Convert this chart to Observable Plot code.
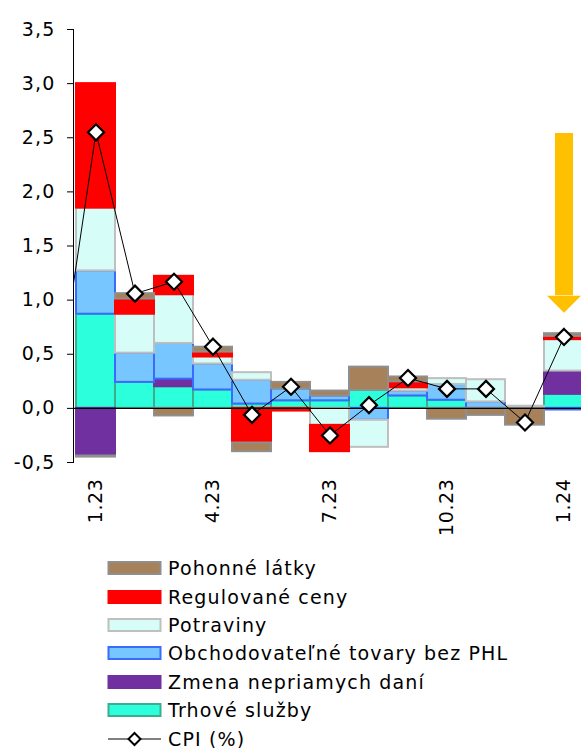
<!DOCTYPE html>
<html><head><meta charset="utf-8">
<script src="https://cdn.jsdelivr.net/npm/d3@7"></script>
<script src="https://cdn.jsdelivr.net/npm/@observablehq/plot@0.6"></script>
<style>
html,body{margin:0;padding:0;background:#fff;overflow:hidden;width:581px;height:748px;}
#chart{position:absolute;left:0;top:0;}
#chart svg text{letter-spacing:1.2px;}
#chart [aria-label^="x-axis"] text{letter-spacing:0.6px;}
#legend{position:absolute;left:107px;top:554px;font-family:"DejaVu Sans";font-size:19px;letter-spacing:1.15px;color:#000;}
.row{height:28.4px;display:flex;align-items:center;white-space:nowrap;}
.row svg{margin-right:6px;flex:none;}
</style></head><body>
<div id="chart"></div><div id="legend"></div>
<script>
// ---- data ----
const months = ["1.23","2.23","3.23","4.23","5.23","6.23","7.23","8.23","9.23","10.23","11.23","12.23","1.24"];
const prevMonth = "12.22";
const trhove         = [0.87, 0.24, 0.20, 0.17, 0.04, 0.07, 0.07, 0.166, 0.115, 0.075, 0, 0, 0.13];
const zmena          = [-0.44, 0, 0.07, 0, 0, 0, 0, 0, 0, 0, 0, 0, 0.215];
const obchodovatelne = [0.40, 0.27, 0.33, 0.24, 0.22, 0.11, 0.045, -0.11, 0.045, 0.145, 0.06, 0, -0.015];
const potraviny      = [0.58, 0.36, 0.45, 0.065, 0.07, 0, -0.157, -0.25, 0.03, 0.055, 0.205, 0.02, 0.29];
const regulovane     = [1.15, 0.14, 0.17, 0.045, -0.32, -0.025, -0.243, 0, 0.055, 0, 0, 0, 0.03];
const pohonne        = [-0.01, 0.05, -0.07, 0.045, -0.08, 0.06, 0.045, 0.215, 0.045, -0.10, -0.065, -0.155, 0.025];
const cpi            = [2.55, 1.06, 1.17, 0.57, -0.06, 0.20, -0.25, 0.03, 0.28, 0.18, 0.18, -0.13, 0.66];
const cpiPrev = 0.13;
const xTicks = ["1.23","4.23","7.23","10.23","1.24"];
const yTicks = [-0.5, 0, 0.5, 1, 1.5, 2, 2.5, 3, 3.5];
const seriesNames = ["Trhové služby","Zmena nepriamych daní","Obchodovateľné tovary bez PHL","Potraviny","Regulované ceny","Pohonné látky"];
const seriesValues = [trhove, zmena, obchodovatelne, potraviny, regulovane, pohonne];
const fills   = ["#2CFFDC","#7030A0","#78C6FF","#D6FDF7","#FF0000","#A6815A"];
const strokes = ["#3CAE8C","#7030A0","#3A6BFF","#BFBFBF","#FF0000","#8F8F8F"];
const cpiLabel = "CPI (%)";
const arrowMonth = "1.24", arrowTop = 2.54, arrowBase = 1.04;
const arrowColor = "#FFC000";

// ---- tables ----
const fillOf = Object.fromEntries(seriesNames.map((s,i)=>[s,fills[i]]));
const strokeOf = Object.fromEntries(seriesNames.map((s,i)=>[s,strokes[i]]));
const barData = seriesNames.flatMap((s,i)=>months.map((m,j)=>({month:m, series:s, value:seriesValues[i][j]}))).filter(d=>d.value!==0);
const cpiData = [{month:prevMonth, value:cpiPrev}, ...months.map((m,j)=>({month:m, value:cpi[j]}))];
const arrowData = [{month:arrowMonth, top:arrowTop, base:arrowBase}];

const diamond = {draw(ctx){ const h=8; ctx.moveTo(0,-h); ctx.lineTo(h,0); ctx.lineTo(0,h); ctx.lineTo(-h,0); ctx.closePath(); }};
const headDown = {draw(ctx){ ctx.moveTo(-17,0); ctx.lineTo(17,0); ctx.lineTo(0,17); ctx.closePath(); }};

const bw = 39.5, left = 73;
const chart = Plot.plot({
  width: 581, height: 545,
  marginLeft: left, marginRight: 0, marginTop: 29, marginBottom: 83,
  style: {fontFamily: "DejaVu Sans", fontSize: "19px", color: "#000", background: "#fff"},
  x: {type: "band", domain: [prevMonth, ...months], range: [left - bw, left + months.length * bw], padding: 0,
      ticks: xTicks, tickRotate: -90, tickSize: 0, tickPadding: 16, label: null},
  y: {domain: [-0.5, 3.5], ticks: yTicks, tickFormat: d => d.toFixed(1).replace(".", ","), tickSize: 6, tickPadding: 12, line: true, label: null},
  color: {type: "identity"},
  marks: [
    Plot.barY(barData, {x: "month", y: "value", z: "series", order: seriesNames,
      fill: d => fillOf[d.series], stroke: d => strokeOf[d.series], strokeWidth: 2}),
    Plot.ruleY([0], {stroke: "#000", strokeWidth: 1.2}),
    Plot.line(cpiData, {x: "month", y: "value", stroke: "#000", strokeWidth: 1, clip: true}),
    Plot.dot(cpiData, {x: "month", y: "value", symbol: diamond, r: 5, fill: "#fff", stroke: "#000", strokeWidth: 2.2, clip: true}),
    Plot.ruleX(arrowData, {x: "month", y1: "top", y2: "base", stroke: arrowColor, strokeWidth: 18}),
    Plot.dot(arrowData, {x: "month", y: "base", symbol: headDown, r: 5, fill: arrowColor, stroke: "none"})
  ]
});
document.getElementById("chart").appendChild(chart);

// ---- legend ----
const legend = document.getElementById("legend");
for (let i = seriesNames.length - 1; i >= 0; i--) {
  const row = document.createElement("div"); row.className = "row";
  row.innerHTML = `<svg width="55" height="16"><rect x="1.5" y="2" width="52" height="12" fill="${fills[i]}" stroke="${strokes[i]}" stroke-width="2"/></svg><span>${seriesNames[i]}</span>`;
  legend.appendChild(row);
}
const crow = document.createElement("div"); crow.className = "row";
crow.innerHTML = `<svg width="55" height="16"><line x1="1" x2="54" y1="8" y2="8" stroke="#000" stroke-width="1"/><path d="M27.5,2L33.5,8L27.5,14L21.5,8Z" fill="#fff" stroke="#000" stroke-width="2"/></svg><span>${cpiLabel}</span>`;
legend.appendChild(crow);
</script>
</body></html>
